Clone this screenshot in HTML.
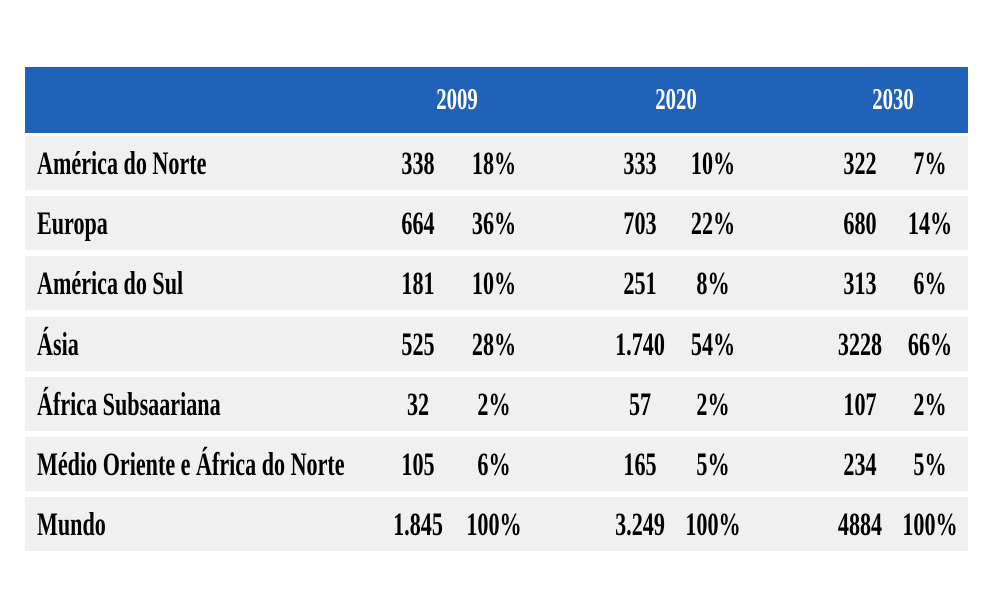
<!DOCTYPE html>
<html><head><meta charset="utf-8"><style>
body{margin:0;width:1000px;height:600px;background:#fff;position:relative;overflow:hidden;font-family:"Liberation Serif",serif}
.hdr{position:absolute;left:25px;top:67px;width:943px;height:66px;background:#2162b9}
.row{position:absolute;left:25px;width:943px;height:54px;background:#f0f0f0}
.t{position:absolute;white-space:nowrap;font-size:33px;line-height:40px;color:#000;font-weight:bold;transform:scaleX(0.67)}
.c{transform-origin:center}
.l{transform-origin:left}
.h{color:#fff;font-size:31px}
</style></head><body>
<div class="hdr"></div>
<script>
const years=['2009','2020','2030'];
const regions=['América do Norte','Europa','América do Sul','Ásia','África Subsaariana','Médio Oriente e África do Norte','Mundo'];
const vals2009=['338','664','181','525','32','105','1.845'];
const pct2009=['18%','36%','10%','28%','2%','6%','100%'];
const vals2020=['333','703','251','1.740','57','165','3.249'];
const pct2020=['10%','22%','8%','54%','2%','5%','100%'];
const vals2030=['322','680','313','3228','107','234','4884'];
const pct2030=['7%','14%','6%','66%','2%','5%','100%'];
const cols=[[vals2009,pct2009,418,494],[vals2020,pct2020,640,713],[vals2030,pct2030,860,930]];
const hx=[457,676,893];
function txt(s,x,y,cls,name){const d=document.createElement('div');d.className='t '+cls;d.textContent=s;


d.style.top=(y-20)+'px';
if(cls.includes('l')){d.style.left=x+'px';}else{d.style.left=(x-100)+'px';d.style.width='200px';d.style.textAlign='center';}
document.body.appendChild(d);}
years.forEach((y,i)=>txt(y,hx[i],99,'c h','year-header'));
regions.forEach((r,i)=>{const top=136+i*60.2;
const row=document.createElement('div');row.className='row';row.style.top=top+'px';


document.body.appendChild(row);
const cy=top+28;
txt(r,37,cy,'l','region-label');
cols.forEach(c=>{txt(c[0][i],c[2],cy,'c','value-cell');txt(c[1][i],c[3],cy,'c','percent-cell');});
});
</script>
</body></html>
